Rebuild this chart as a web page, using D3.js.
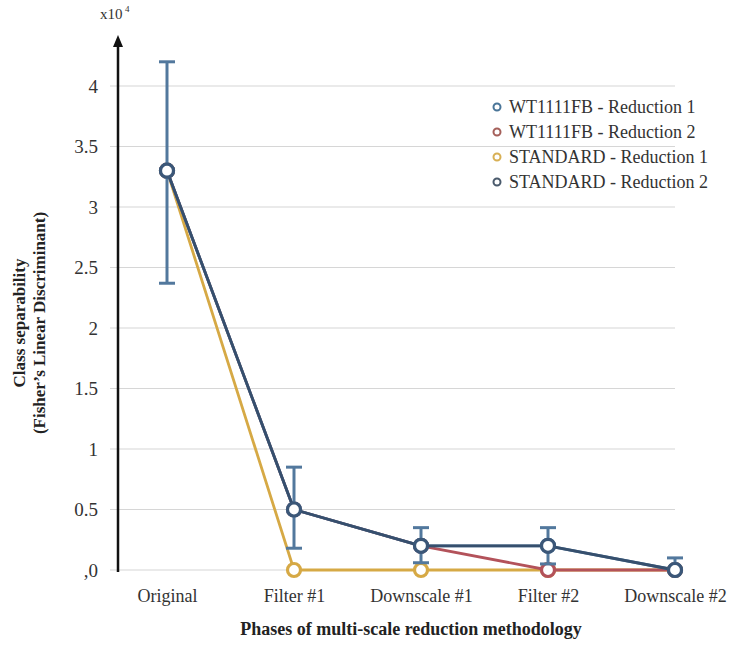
<!DOCTYPE html>
<html>
<head>
<meta charset="utf-8">
<script src="https://cdn.jsdelivr.net/npm/d3@7"></script>
<style>
  body { margin: 0; background: #fff; }
</style>
</head>
<body>
<svg id="chart" width="730" height="645"></svg>
<script>
// Phases of the multi-scale reduction
const phases = ["Original", "Filter #1", "Downscale #1", "Filter #2", "Downscale #2"];
const yTicks = [0, 0.5, 1, 1.5, 2, 2.5, 3, 3.5, 4];
const yTickLabels = [",0", "0.5", "1", "1.5", "2", "2.5", "3", "3.5", "4"];

// Class separability (x10^4) per phase
const standardR1 = [3.3, 0, 0, 0, 0];
const wtR2 = [3.3, 0.5, 0.2, 0, 0];
const wtR1 = [3.3, 0.5, 0.2, 0.2, 0];
const standardR2 = [3.3, 0.5, 0.2, 0.2, 0];
// Error bar extents for WT1111FB - Reduction 1
const errLow = [2.37, 0.18, 0.06, 0.05, 0];
const errHigh = [4.2, 0.85, 0.35, 0.35, 0.1];

const seriesNames = ["WT1111FB - Reduction 1", "WT1111FB - Reduction 2", "STANDARD - Reduction 1", "STANDARD - Reduction 2"];
const legendColors = ["#4a7598", "#a5605a", "#d8b055", "#4a5a6c"];

const FONT = "'Liberation Serif', 'Times New Roman', Times, serif";

const svg = d3.select("#chart").attr("font-family", FONT);
const x = d3.scalePoint().domain(phases).range([167, 675]);
const y = d3.scaleLinear().domain([0, 4]).range([570, 86]);

// Gridlines
svg.append("g").selectAll("line").data(yTicks).join("line")
  .attr("x1", 110).attr("x2", 675)
  .attr("y1", d => y(d)).attr("y2", d => y(d))
  .attr("stroke", "#d6d6d6").attr("stroke-width", 1.2);

// Y axis with tick labels
const yAxis = d3.axisLeft(y).tickValues(yTicks)
  .tickFormat((d, i) => yTickLabels[i]).tickSize(0).tickPadding(20);
const gy = svg.append("g").attr("transform", "translate(118,0)").call(yAxis)
  .attr("font-family", FONT);
gy.select(".domain").remove();
gy.selectAll("text").attr("font-size", 19).attr("fill", "#333");

svg.append("line").attr("x1", 118).attr("x2", 118)
  .attr("y1", 44).attr("y2", y(0) + 2)
  .attr("stroke", "#111").attr("stroke-width", 2.5);
svg.append("path").attr("d", "M118,35 L113,47 L123,47 Z").attr("fill", "#111");

svg.append("text").attr("x", 100).attr("y", 19).attr("font-size", 15).attr("fill", "#333").text("x10");
svg.append("text").attr("x", 125).attr("y", 12).attr("font-size", 9).attr("fill", "#333").text("4");

// X category labels
const xAxis = d3.axisBottom(x).tickSize(0).tickPadding(19);
const gx = svg.append("g").attr("transform", "translate(0,570)").call(xAxis)
  .attr("font-family", FONT);
gx.select(".domain").remove();
gx.selectAll("text").attr("font-size", 18).attr("fill", "#333");

// Axis titles
svg.append("text").attr("x", 411).attr("y", 635).attr("text-anchor", "middle")
  .attr("font-size", 18).attr("font-weight", "bold").attr("fill", "#222")
  .text("Phases of multi-scale reduction methodology");
const yt = svg.append("g").attr("transform", "translate(25,323) rotate(-90)");
yt.append("text").attr("text-anchor", "middle").attr("font-size", 17).attr("font-weight", "bold")
  .attr("fill", "#222").text("Class separability");
yt.append("text").attr("y", 20).attr("text-anchor", "middle").attr("font-size", 17).attr("font-weight", "bold")
  .attr("fill", "#222").text("(Fisher\u2019s Linear Discriminant)");

const line = d3.line().x((d, i) => x(phases[i])).y(d => y(d));

function drawSeries(vals, lineColor, markerColor) {
  svg.append("path").datum(vals).attr("d", line)
    .attr("fill", "none").attr("stroke", lineColor).attr("stroke-width", 2.8)
    .attr("stroke-linejoin", "round");
  svg.append("g").selectAll("circle").data(vals).join("circle")
    .attr("cx", (d, i) => x(phases[i])).attr("cy", d => y(d)).attr("r", 6.5)
    .attr("fill", "#fff").attr("stroke", markerColor).attr("stroke-width", 3.2);
}

drawSeries(standardR1, "#d6a945", "#d6a945");
drawSeries(wtR2, "#b3525a", "#b3525a");

// Error bars
const eb = svg.append("g").attr("stroke", "#52789d").attr("stroke-width", 3);
phases.forEach((p, i) => {
  eb.append("line").attr("x1", x(p)).attr("x2", x(p)).attr("y1", y(errLow[i])).attr("y2", y(errHigh[i]));
  eb.append("line").attr("x1", x(p) - 8).attr("x2", x(p) + 8).attr("y1", y(errHigh[i])).attr("y2", y(errHigh[i]));
  if (errLow[i] > 0)
    eb.append("line").attr("x1", x(p) - 8).attr("x2", x(p) + 8).attr("y1", y(errLow[i])).attr("y2", y(errLow[i]));
});

drawSeries(wtR1, "#4f7aa0", "#4f7aa0");
drawSeries(standardR2, "#364f6d", "#3b5778");

// Legend
const lg = svg.append("g").selectAll("g").data(seriesNames).join("g")
  .attr("transform", (d, i) => `translate(497,${107 + i * 25})`);
lg.append("circle").attr("r", 3.5).attr("fill", "#fff")
  .attr("stroke", (d, i) => legendColors[i]).attr("stroke-width", 2);
lg.append("text").attr("x", 12).attr("dy", "0.35em").attr("font-size", 18).attr("fill", "#333")
  .text(d => d);
</script>
</body>
</html>
